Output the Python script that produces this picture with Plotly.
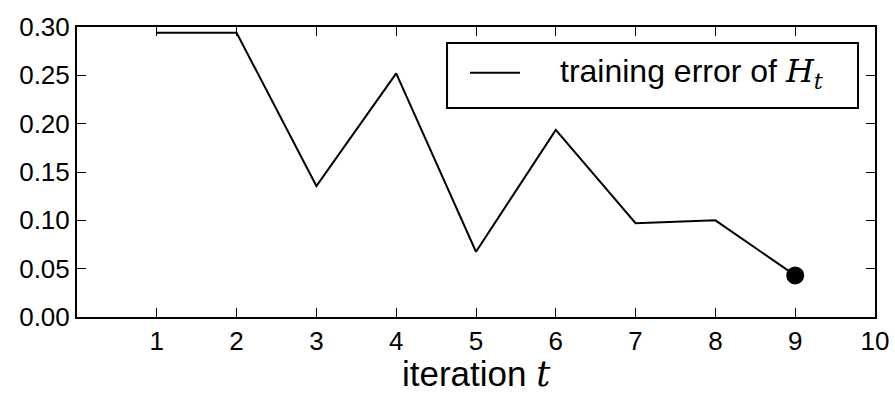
import plotly.graph_objects as go

# training error of the combined classifier H_t after each boosting round
iterations = [1, 2, 3, 4, 5, 6, 7, 8, 9]
train_error = [0.294, 0.294, 0.1355, 0.252, 0.0675, 0.1935, 0.097, 0.100, 0.043]

x_ticks = [1, 2, 3, 4, 5, 6, 7, 8, 9, 10]
y_ticks = [0.00, 0.05, 0.10, 0.15, 0.20, 0.25, 0.30]

FONT = "Liberation Sans, Arial, Helvetica, sans-serif"
SERIF = "DejaVu Serif, Liberation Serif, serif"

def math_italic(s):
    return f"<i><span style='font-family:{SERIF}'>{s}</span></i>"

legend_label = f"training error of {math_italic('H')}<sub>{math_italic('t')}</sub>"
x_title = f"iteration {math_italic('t')}"

fig = go.Figure()
fig.add_trace(go.Scatter(
    x=iterations, y=train_error, mode="lines",
    line=dict(color="black", width=2),
    name=legend_label, showlegend=False,
))
fig.add_trace(go.Scatter(
    x=[iterations[-1]], y=[train_error[-1]], mode="markers",
    marker=dict(color="black", size=18),
    showlegend=False, cliponaxis=False,
))

axis_common = dict(
    showline=True, linecolor="black", linewidth=2, mirror="allticks",
    ticks="inside", ticklen=9, tickwidth=1.2, tickcolor="black",
    showgrid=False, zeroline=False, automargin=False,
    tickfont=dict(family=FONT, size=26, color="black"),
)

# framed legend box drawn in paper coordinates of the plot area
box = dict(x0=0.4637, x1=0.9787, y0=0.7207, y1=0.9448)
key_y = 0.8424
fig.add_shape(type="rect", xref="paper", yref="paper", **box,
              line=dict(color="black", width=2), fillcolor="white", layer="above")
fig.add_shape(type="line", xref="paper", yref="paper",
              x0=0.4925, x1=0.5551, y0=key_y, y1=key_y,
              line=dict(color="black", width=2), layer="above")
fig.add_annotation(xref="paper", yref="paper", x=0.6028, y=key_y,
                   xanchor="left", yanchor="middle", showarrow=False,
                   text=legend_label,
                   font=dict(family=FONT, size=32, color="black"))

# x-axis title placed under the tick labels
fig.add_annotation(xref="paper", yref="paper", x=0.5, y=-0.196,
                   xanchor="center", yanchor="middle", showarrow=False,
                   text=x_title,
                   font=dict(family=FONT, size=35, color="black"))

fig.update_layout(
    width=895, height=393,
    margin=dict(l=77, r=20, t=27, b=76),
    plot_bgcolor="white", paper_bgcolor="white",
    font=dict(family=FONT, color="black"),
    xaxis=dict(range=[0, 10], tickvals=x_ticks, **axis_common),
    yaxis=dict(range=[0, 0.30], tickvals=y_ticks, tickformat=".2f", **axis_common),
    showlegend=False,
)

fig.write_html("out.html")
